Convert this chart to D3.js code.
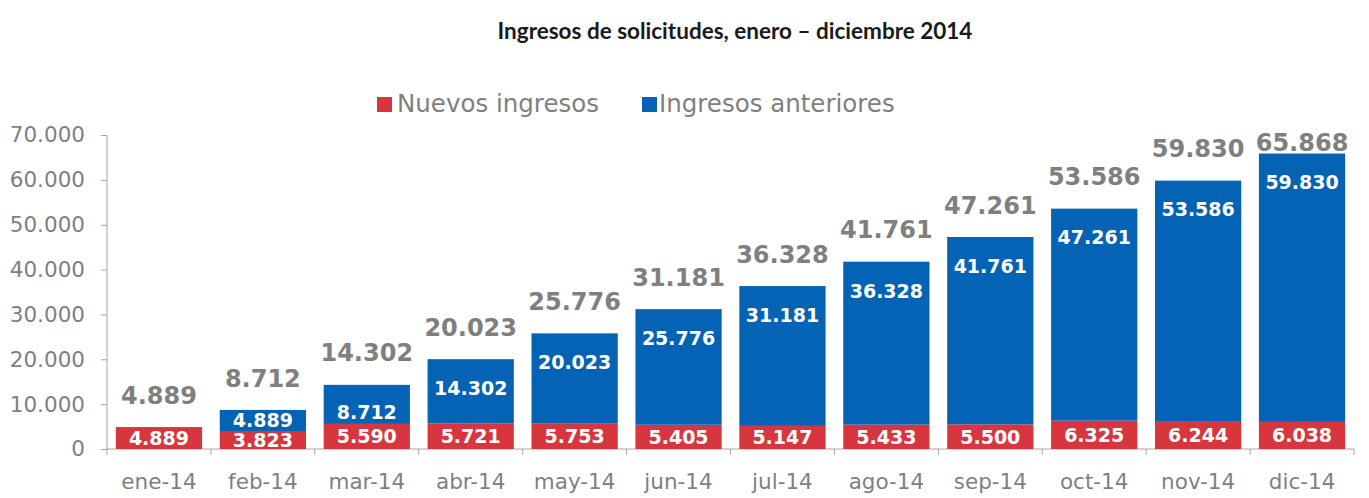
<!DOCTYPE html>
<html>
<head>
<meta charset="utf-8">
<script src="https://cdn.jsdelivr.net/npm/d3@7"></script>
<style>
  body { margin: 0; background: #fff; }
  svg { display: block; font-family: "DejaVu Sans", Verdana, sans-serif; }
</style>
</head>
<body>
<svg id="chart" width="1369" height="498"></svg>
<script>
const months = ["ene-14", "feb-14", "mar-14", "abr-14", "may-14", "jun-14",
                "jul-14", "ago-14", "sep-14", "oct-14", "nov-14", "dic-14"];
const nuevos = [4889, 3823, 5590, 5721, 5753, 5405, 5147, 5433, 5500, 6325, 6244, 6038];
const anteriores = [0, 4889, 8712, 14302, 20023, 25776, 31181, 36328, 41761, 47261, 53586, 59830];
const yTicks = [0, 10000, 20000, 30000, 40000, 50000, 60000, 70000];
const seriesNames = ["Nuevos ingresos", "Ingresos anteriores"];

const red = "#d8363e";
const blue = "#0563b5";
const gray = "#7f7f7f";
const axisCol = "#a6a6a6";

// number format with dot as thousands separator
const fmt = d3.formatLocale({decimal: ",", thousands: ".", grouping: [3], currency: ["", ""]}).format(",d");

const svg = d3.select("#chart");

const x = d3.scaleBand()
    .domain(months)
    .range([107, 1354])
    .paddingInner(0.17)
    .paddingOuter(0.085);

const y = d3.scaleLinear()
    .domain([0, 70000])
    .range([449, 135]);

// title
svg.append("text")
    .attr("x", 735)
    .attr("y", 39)
    .attr("text-anchor", "middle")
    .style("font-family", "Lato, 'Liberation Sans', sans-serif")
    .style("font-weight", "bold")
    .style("font-size", "22.5px")
    .attr("fill", "#1a1a1a")
    .text("Ingresos de solicitudes, enero \u2013 diciembre 2014");

// legend
const legend = svg.append("g");
const legendX = [377, 642];
[red, blue].forEach(function(c, i) {
    legend.append("rect")
        .attr("x", legendX[i])
        .attr("y", 97)
        .attr("width", 15)
        .attr("height", 15)
        .attr("fill", c);
    legend.append("text")
        .attr("x", legendX[i] + (i === 0 ? 20 : 17))
        .attr("y", 112)
        .attr("fill", gray)
        .style("font-size", "24.5px")
        .text(seriesNames[i]);
});

// y axis
const yAxis = svg.append("g")
    .attr("transform", "translate(107,0)")
    .call(d3.axisLeft(y).tickValues(yTicks).tickSize(6).tickPadding(16).tickFormat(fmt));
yAxis.selectAll("line").attr("stroke", axisCol);
yAxis.select(".domain").attr("stroke", axisCol).attr("d", "M0," + y(70000) + "V" + y(0));
yAxis.selectAll("text")
    .attr("fill", gray)
    .style("font-size", "21.5px")
    .style("font-family", "'DejaVu Sans', Verdana, sans-serif");

// x axis (labels centred, ticks between bands)
const xAxis = svg.append("g")
    .attr("transform", "translate(0," + y(0) + ")")
    .call(d3.axisBottom(x).tickSize(0).tickPadding(25));
xAxis.select(".domain").attr("stroke", axisCol).attr("d", "M107,0H1354");
xAxis.selectAll("text")
    .attr("fill", gray)
    .style("font-size", "21.5px")
    .style("font-family", "'DejaVu Sans', Verdana, sans-serif");

const half = x.step() * x.paddingInner() / 2;
const bounds = months.map(m => x(m) - half).concat([x(months[months.length - 1]) + x.bandwidth() + half]);
xAxis.selectAll(".sep")
    .data(bounds)
    .enter()
    .append("line")
    .attr("class", "sep")
    .attr("x1", d => d)
    .attr("x2", d => d)
    .attr("y1", 0)
    .attr("y2", 6)
    .attr("stroke", axisCol);

// bars
const rows = months.map(function(m, i) {
    return {m: m, n: nuevos[i], a: anteriores[i], t: nuevos[i] + anteriores[i]};
});

const bars = svg.append("g");

bars.selectAll(".nuevo")
    .data(rows)
    .enter()
    .append("rect")
    .attr("x", d => x(d.m))
    .attr("width", x.bandwidth())
    .attr("y", d => y(d.n))
    .attr("height", d => y(0) - y(d.n))
    .attr("fill", red);

bars.selectAll(".anterior")
    .data(rows.filter(d => d.a > 0))
    .enter()
    .append("rect")
    .attr("x", d => x(d.m))
    .attr("width", x.bandwidth())
    .attr("y", d => y(d.t))
    .attr("height", d => y(d.n) - y(d.t))
    .attr("fill", blue);

const labels = svg.append("g")
    .attr("text-anchor", "middle")
    .style("font-weight", "bold");

// red segment labels
labels.selectAll(".lblN")
    .data(rows)
    .enter()
    .append("text")
    .attr("x", d => x(d.m) + x.bandwidth() / 2)
    .attr("y", d => (y(0) + y(d.n)) / 2)
    .attr("dy", "0.36em")
    .attr("fill", "#fff")
    .style("font-size", "19px")
    .text(d => fmt(d.n));

// blue segment labels
labels.selectAll(".lblA")
    .data(rows.filter(d => d.a > 0))
    .enter()
    .append("text")
    .attr("x", d => x(d.m) + x.bandwidth() / 2)
    .attr("y", d => Math.min(y(d.t) + 29, y(d.n) - 12))
    .attr("dy", "0.36em")
    .attr("fill", "#fff")
    .style("font-size", "19px")
    .text(d => fmt(d.a));

// totals
labels.selectAll(".lblT")
    .data(rows)
    .enter()
    .append("text")
    .attr("x", d => x(d.m) + x.bandwidth() / 2)
    .attr("y", d => Math.max(y(d.t) - 32, 142))
    .attr("dy", "0.36em")
    .attr("fill", gray)
    .style("font-size", "24px")
    .text(d => fmt(d.t));
</script>
</body>
</html>
